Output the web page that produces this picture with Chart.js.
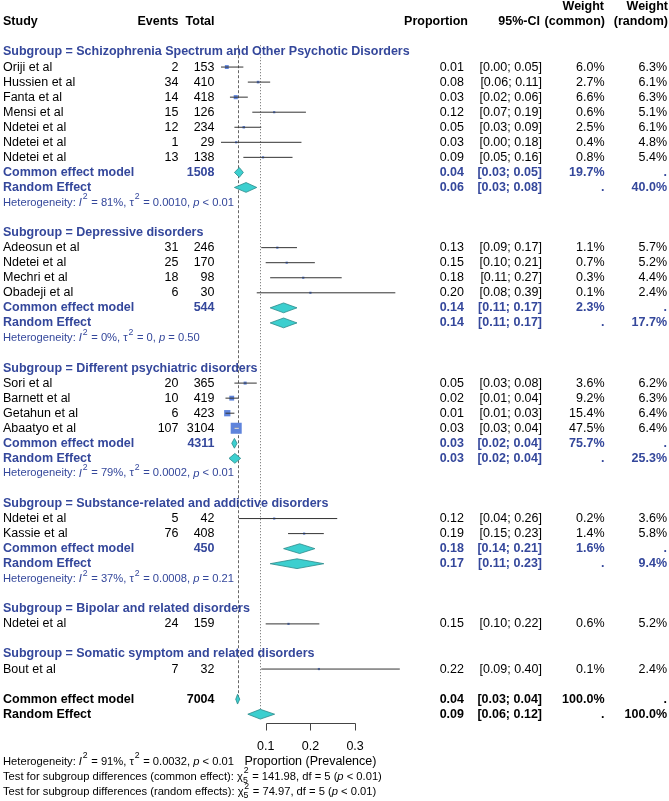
<!DOCTYPE html>
<html><head><meta charset="utf-8">
<script src="https://cdn.jsdelivr.net/npm/chart.js@4.4.1/dist/chart.umd.min.js"></script>
<style>html,body{margin:0;padding:0;background:#fff;}#wrap{width:669px;height:801px;position:relative;}</style>
</head><body><div id="wrap"><canvas id="c" width="669" height="801"></canvas></div>
<script>
// ---------------- DATA ----------------
const subgroupNames = ["Schizophrenia Spectrum and Other Psychotic Disorders","Depressive disorders","Different psychiatric disorders","Substance-related and addictive disorders","Bipolar and related disorders","Somatic symptom and related disorders"];
const studies = ["Oriji et al","Hussien et al","Fanta et al","Mensi et al","Ndetei et al","Ndetei et al","Ndetei et al","Adeosun et al","Ndetei et al","Mechri et al","Obadeji et al","Sori et al","Barnett et al","Getahun et al","Abaatyo et al","Ndetei et al","Kassie et al","Ndetei et al","Bout et al"];
const studyGroup = [0,0,0,0,0,0,0,1,1,1,1,2,2,2,2,3,3,4,5];
const events = [2,34,14,15,12,1,13,31,25,18,6,20,10,6,107,5,76,24,7];
const totals = [153,410,418,126,234,29,138,246,170,98,30,365,419,423,3104,42,408,159,32];
const proportion = [0.013,0.083,0.033,0.119,0.051,0.034,0.094,0.126,0.147,0.184,0.200,0.054,0.024,0.014,0.034,0.119,0.186,0.151,0.219];
const ciLower = [0.00,0.06,0.02,0.07,0.03,0.00,0.05,0.09,0.10,0.11,0.08,0.03,0.01,0.01,0.03,0.04,0.15,0.10,0.09];
const ciUpper = [0.05,0.11,0.06,0.19,0.09,0.18,0.16,0.17,0.21,0.27,0.39,0.08,0.04,0.03,0.04,0.26,0.23,0.22,0.40];
const weightCommon = [6.0,2.7,6.6,0.6,2.5,0.4,0.8,1.1,0.7,0.3,0.1,3.6,9.2,15.4,47.5,0.2,1.4,0.6,0.1];
const weightRandom = [6.3,6.1,6.3,5.1,6.1,4.8,5.4,5.7,5.2,4.4,2.4,6.2,6.3,6.4,6.4,3.6,5.8,5.2,2.4];

const sgTotal = [1508,544,4311,450,null,null];
const sgCommonEst = [0.041,0.140,0.030,0.176,null,null];
const sgCommonLow = [0.030,0.110,0.024,0.140,null,null];
const sgCommonHigh = [0.050,0.170,0.036,0.210,null,null];
const sgCommonW = [19.7,2.3,75.7,1.6,null,null];
const sgRandomEst = [0.056,0.140,0.031,0.170,null,null];
const sgRandomLow = [0.030,0.110,0.018,0.110,null,null];
const sgRandomHigh = [0.080,0.170,0.044,0.230,null,null];
const sgRandomW = [40.0,17.7,25.3,9.4,null,null];
const sgI2 = ["81%","0%","79%","37%",null,null];
const sgTau2 = ["0.0010","0","0.0002","0.0008",null,null];
const sgP = ["< 0.01","= 0.50","< 0.01","= 0.21",null,null];

const overallTotal = 7004;
const overallCommon = [0.037,0.033,0.042]; // est, low, high
const overallRandom = [0.088,0.060,0.120];
const overallI2 = "91%", overallTau2 = "0.0032", overallP = "< 0.01";
const testCommon = {chi:"141.98", df:5, p:"< 0.01"};
const testRandom = {chi:"74.97", df:5, p:"< 0.01"};
const tickValues = [0.1,0.2,0.3];
const axisTitle = "Proportion (Prevalence)";

// ---------------- LAYOUT ----------------
const FONT = "'Liberation Sans', Arial, sans-serif";
const BLUE = "#34479b";
const ROW0 = 52, ROWH = 15.05, ZERO = 221, UNIT = 447, W = 669, H = 801;
const HET_SIZE = 11.2;

const rows = [];
let r = 0;
const studyRow = [];
for (let g = 0; g < subgroupNames.length; g++) {
  rows.push({kind:'header', g, row:r}); r++;
  studies.forEach((s,i)=>{ if (studyGroup[i]===g){ studyRow[i]=r; rows.push({kind:'study', i, row:r}); r++; } });
  if (sgCommonEst[g] !== null) {
    rows.push({kind:'sgCommon', g, row:r}); r++;
    rows.push({kind:'sgRandom', g, row:r}); r++;
    rows.push({kind:'sgHet', g, row:r}); r++;
  }
  r++;
}
const overallCommonRow = r, overallRandomRow = r+1;

const ciData = [];
studies.forEach((s,i)=>{
  ciData.push({x:ciLower[i], y:studyRow[i]}, {x:ciUpper[i], y:studyRow[i]}, {x:ciUpper[i], y:null});
});
const sqData = studies.map((s,i)=>({x:proportion[i], y:studyRow[i]}));
const sqSide = weightCommon.map(w=>Math.max(2.2, 1.6*Math.sqrt(w)));
const sqRadius = sqSide.map(s=>s/Math.SQRT2);

const fmt2 = v => v.toFixed(2);
const ciTxt = (lo,hi) => "[" + fmt2(lo) + "; " + fmt2(hi) + "]";
const pct = w => w.toFixed(1) + "%";

function txt(ctx, s, x, y, opt) {
  opt = opt || {};
  ctx.font = (opt.bold ? "bold " : "") + (opt.size || 12.5) + "px " + FONT;
  ctx.fillStyle = opt.color || "#000";
  ctx.textAlign = opt.align || "left";
  ctx.textBaseline = "middle";
  ctx.fillText(s, x, y);
}
function rich(ctx, x, y, parts, size, color) {
  ctx.textAlign = "left"; ctx.textBaseline = "middle"; ctx.fillStyle = color;
  let cx = x;
  for (const p of parts) {
    if (typeof p === "string") {
      ctx.font = size + "px " + FONT; ctx.fillText(p, cx, y); cx += ctx.measureText(p).width;
    } else if (p.it) {
      ctx.font = "italic " + size + "px " + FONT; ctx.fillText(p.it, cx, y); cx += ctx.measureText(p.it).width;
    } else {
      ctx.font = (size*0.78) + "px " + FONT; let w = 0;
      if (p.sup) { ctx.fillText(p.sup, cx+0.8, y - size*0.5); w = Math.max(w, ctx.measureText(p.sup).width + 0.8); }
      if (p.sub) { ctx.fillText(p.sub, cx, y + size*0.32); w = Math.max(w, ctx.measureText(p.sub).width); }
      cx += w + 0.5;
    }
  }
}
function hetParts(i2, tau2, p) {
  return ["Heterogeneity: ", {it:"I"}, {sup:"2"}, " = " + i2 + ", τ", {sup:"2"}, " = " + tau2 + ", ", {it:"p"}, " " + p];
}

const forestPlugin = {
  id: 'forest',
  beforeDatasetsDraw(chart) {
    const ctx = chart.ctx, xs = chart.scales.x, ys = chart.scales.y;
    ctx.save();
    ctx.strokeStyle = "#666"; ctx.lineWidth = 1;
    const top = ys.getPixelForValue(-0.45);
    let x = Math.round(xs.getPixelForValue(overallCommon[0])) + 0.5;
    ctx.setLineDash([3,2]); ctx.beginPath(); ctx.moveTo(x, top); ctx.lineTo(x, ys.getPixelForValue(overallCommonRow)); ctx.stroke();
    x = Math.round(xs.getPixelForValue(overallRandom[0])) + 0.5;
    ctx.setLineDash([1,2]); ctx.beginPath(); ctx.moveTo(x, top); ctx.lineTo(x, ys.getPixelForValue(overallRandomRow)); ctx.stroke();
    ctx.restore();
  },
  afterDatasetsDraw(chart) {
    const ctx = chart.ctx, xs = chart.scales.x, ys = chart.scales.y;
    const Y = v => ys.getPixelForValue(v), X = v => xs.getPixelForValue(v);
    ctx.save();
    studies.forEach((s,i)=>{
      const cx = X(proportion[i]), half = sqSide[i]/2;
      const lo = X(ciLower[i]), hi = X(ciUpper[i]);
      if (lo >= cx-half && hi <= cx+half && half > 3) {
        ctx.strokeStyle = "#fff"; ctx.lineWidth = 1; ctx.beginPath();
        ctx.moveTo(lo, Y(studyRow[i])); ctx.lineTo(hi, Y(studyRow[i])); ctx.stroke();
      }
    });
    function diamond(est, lo, hi, row) {
      const y = Y(row), h = 4.9;
      ctx.beginPath();
      ctx.moveTo(X(lo), y); ctx.lineTo(X(est), y-h); ctx.lineTo(X(hi), y); ctx.lineTo(X(est), y+h); ctx.closePath();
      ctx.fillStyle = "#3ccfcf"; ctx.fill();
      ctx.strokeStyle = "#2b8a8a"; ctx.lineWidth = 0.8; ctx.stroke();
    }
    const C = {name:3, ev:178.5, tot:214.5, prop:464, ci:542, wc:604.5, wr:667};
    txt(ctx, "Study", C.name, Y(-2), {bold:true});
    txt(ctx, "Events", C.ev, Y(-2), {bold:true, align:"right"});
    txt(ctx, "Total", C.tot, Y(-2), {bold:true, align:"right"});
    txt(ctx, "Proportion", 468, Y(-2), {bold:true, align:"right"});
    txt(ctx, "95%-CI", 540, Y(-2), {bold:true, align:"right"});
    txt(ctx, "(common)", 605, Y(-2), {bold:true, align:"right"});
    txt(ctx, "(random)", 668, Y(-2), {bold:true, align:"right"});
    txt(ctx, "Weight", 604, Y(-3), {bold:true, align:"right"});
    txt(ctx, "Weight", 668, Y(-3), {bold:true, align:"right"});
    for (const rw of rows) {
      const y = Y(rw.row);
      if (rw.kind === 'header') {
        txt(ctx, "Subgroup = " + subgroupNames[rw.g], C.name, y, {bold:true, color:BLUE});
      } else if (rw.kind === 'study') {
        const i = rw.i;
        txt(ctx, studies[i], C.name, y);
        txt(ctx, String(events[i]), C.ev, y, {align:"right"});
        txt(ctx, String(totals[i]), C.tot, y, {align:"right"});
        txt(ctx, fmt2(proportion[i]), C.prop, y, {align:"right"});
        txt(ctx, ciTxt(ciLower[i], ciUpper[i]), C.ci, y, {align:"right"});
        txt(ctx, pct(weightCommon[i]), C.wc, y, {align:"right"});
        txt(ctx, pct(weightRandom[i]), C.wr, y, {align:"right"});
      } else if (rw.kind === 'sgCommon') {
        const g = rw.g, o = {bold:true, color:BLUE};
        diamond(sgCommonEst[g], sgCommonLow[g], sgCommonHigh[g], rw.row);
        txt(ctx, "Common effect model", C.name, y, o);
        txt(ctx, String(sgTotal[g]), C.tot, y, {...o, align:"right"});
        txt(ctx, fmt2(sgCommonEst[g]), C.prop, y, {...o, align:"right"});
        txt(ctx, ciTxt(sgCommonLow[g], sgCommonHigh[g]), C.ci, y, {...o, align:"right"});
        txt(ctx, pct(sgCommonW[g]), C.wc, y, {...o, align:"right"});
        txt(ctx, ".", C.wr, y, {...o, align:"right"});
      } else if (rw.kind === 'sgRandom') {
        const g = rw.g, o = {bold:true, color:BLUE};
        diamond(sgRandomEst[g], sgRandomLow[g], sgRandomHigh[g], rw.row);
        txt(ctx, "Random Effect", C.name, y, o);
        txt(ctx, fmt2(sgRandomEst[g]), C.prop, y, {...o, align:"right"});
        txt(ctx, ciTxt(sgRandomLow[g], sgRandomHigh[g]), C.ci, y, {...o, align:"right"});
        txt(ctx, ".", C.wc, y, {...o, align:"right"});
        txt(ctx, pct(sgRandomW[g]), C.wr, y, {...o, align:"right"});
      } else if (rw.kind === 'sgHet') {
        const g = rw.g;
        rich(ctx, C.name, y, hetParts(sgI2[g], sgTau2[g], sgP[g]), HET_SIZE, BLUE);
      }
    }
    let y = Y(overallCommonRow);
    diamond(overallCommon[0], overallCommon[1], overallCommon[2], overallCommonRow);
    txt(ctx, "Common effect model", C.name, y, {bold:true});
    txt(ctx, String(overallTotal), C.tot, y, {bold:true, align:"right"});
    txt(ctx, fmt2(overallCommon[0]), C.prop, y, {bold:true, align:"right"});
    txt(ctx, ciTxt(overallCommon[1], overallCommon[2]), C.ci, y, {bold:true, align:"right"});
    txt(ctx, "100.0%", C.wc, y, {bold:true, align:"right"});
    txt(ctx, ".", C.wr, y, {bold:true, align:"right"});
    y = Y(overallRandomRow);
    diamond(overallRandom[0], overallRandom[1], overallRandom[2], overallRandomRow);
    txt(ctx, "Random Effect", C.name, y, {bold:true});
    txt(ctx, fmt2(overallRandom[0]), C.prop, y, {bold:true, align:"right"});
    txt(ctx, ciTxt(overallRandom[1], overallRandom[2]), C.ci, y, {bold:true, align:"right"});
    txt(ctx, ".", C.wc, y, {bold:true, align:"right"});
    txt(ctx, "100.0%", C.wr, y, {bold:true, align:"right"});
    // axis
    const ay = Math.round(Y(overallRandomRow + 0.6)) + 0.5;
    ctx.strokeStyle = "#444"; ctx.lineWidth = 1; ctx.setLineDash([]);
    ctx.beginPath();
    ctx.moveTo(Math.round(X(tickValues[0]))+0.5, ay); ctx.lineTo(Math.round(X(tickValues[tickValues.length-1]))+0.5, ay);
    tickValues.forEach(t=>{ const tx = Math.round(X(t))+0.5; ctx.moveTo(tx, ay); ctx.lineTo(tx, ay+7); });
    ctx.stroke();
    tickValues.forEach(t=> txt(ctx, t.toFixed(1), X(t), ay + 23, {align:"center", size:12.5}));
    const by = Y(overallRandomRow + 3.15);
    txt(ctx, axisTitle, X(0.2), by, {align:"center", size:12.5});
    rich(ctx, C.name, by, hetParts(overallI2, overallTau2, overallP), HET_SIZE, "#000");
    rich(ctx, C.name, Y(overallRandomRow + 4.15), ["Test for subgroup differences (common effect): χ", {sup:"2", sub:String(testCommon.df)}, " = " + testCommon.chi + ", df = " + testCommon.df + " (", {it:"p"}, " " + testCommon.p + ")"], HET_SIZE, "#000");
    rich(ctx, C.name, Y(overallRandomRow + 5.15), ["Test for subgroup differences (random effects): χ", {sup:"2", sub:String(testRandom.df)}, " = " + testRandom.chi + ", df = " + testRandom.df + " (", {it:"p"}, " " + testRandom.p + ")"], HET_SIZE, "#000");
    ctx.restore();
  }
};

const yMin = -ROW0/ROWH, yMax = yMin + H/ROWH;
const xMin = -ZERO/UNIT, xMax = xMin + W/UNIT;

new Chart(document.getElementById('c'), {
  type: 'scatter',
  data: { datasets: [
    { type:'scatter', data: sqData, pointStyle:'rect', pointRadius: sqRadius, backgroundColor:'#5f84dc', borderWidth:0, clip:false, order:2 },
    { type:'line', data: ciData, borderColor:'#333', borderWidth:1, pointRadius:0, spanGaps:false, clip:false, order:1 }
  ]},
  options: {
    responsive:false, animation:false, devicePixelRatio:1,
    layout:{padding:0, autoPadding:false},
    plugins:{legend:{display:false}, tooltip:{enabled:false}},
    scales:{
      x:{type:'linear', min:xMin, max:xMax, display:false},
      y:{type:'linear', min:yMin, max:yMax, reverse:true, display:false}
    }
  },
  plugins:[forestPlugin]
});
</script></body></html>
